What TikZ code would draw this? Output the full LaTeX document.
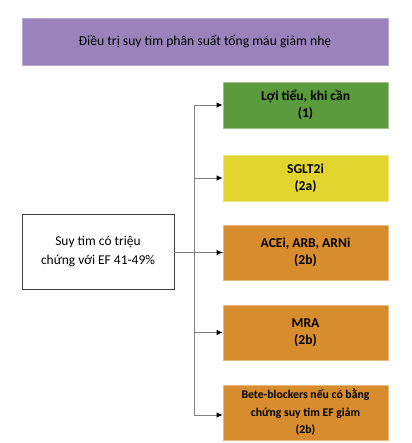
\documentclass[tikz,border=0pt]{standalone}
\usepackage{fontspec}
\setmainfont{Carlito}
\usetikzlibrary{arrows.meta,positioning}

\definecolor{titlepurple}{HTML}{9A83BA}
\definecolor{drugGreen}{HTML}{5B9A3D}
\definecolor{drugYellow}{HTML}{E2D52F}
\definecolor{drugOrange}{HTML}{D78D2D}
\definecolor{linkGray}{HTML}{808080}

\begin{document}
\begin{tikzpicture}[x=1bp, y=-1bp,
    drug/.style={minimum width=165bp, minimum height=55bp, inner sep=1pt, align=center,
      font=\fontsize{13.6}{17}\selectfont\bfseries, line width=0.8pt},
    link/.style={draw=linkGray, line width=0.9pt},
    arr/.style={link, -{Latex[length=6pt,width=5.5pt,black]}}]
        \useasboundingbox (0,0) rectangle (411,443);
        \node[fill=titlepurple, draw=titlepurple!70!white, line width=0.8pt,
              minimum width=366bp, minimum height=47bp,
              font=\fontsize{13.7}{16}\selectfont] (title) at (205,41.5)
              {Điều trị suy tim phân suất tống máu giảm nhẹ};
        \node[draw=black!75, line width=0.9pt, fill=white, minimum width=152bp, minimum height=75bp,
              align=center, font=\fontsize{13.5}{18.5}\selectfont] (ef) at (98,251.5)
              {Suy tim có triệu\\chứng với EF 41-49\%};

        \node[drug, fill=drugGreen, draw=drugGreen!60!white, minimum height=46bp] (diu) at (305.5,105) {Lợi tiểu, khi cần\\(1)};
        \node[drug, fill=drugYellow, draw=drugYellow!60!white, minimum height=46bp] (sglt) at (305.5,178) {SGLT2i\\(2a)};
        \node[drug, fill=drugOrange, draw=drugOrange!60!white] (acei) at (305.5,252.5) {ACEi, ARB, ARNi\\(2b)};
        \node[drug, fill=drugOrange, draw=drugOrange!60!white] (mra) at (305.5,332.5) {MRA\\(2b)};
        \node[drug, fill=drugOrange, draw=drugOrange!60!white,
              font=\fontsize{11.8}{17.5}\selectfont\bfseries] (beta) at (305.5,412.5)
              {Bete-blockers nếu có bằng\\chứng suy tim EF giảm\\(2b)};

        % trunk
        \coordinate (top) at (194,105);
        \coordinate (bot) at (194,415);
        \draw[link] (top) -- (bot);
        \draw[link] (ef.east |- acei.west) -- (acei.west);
        \draw[arr] (top) -- (diu.west);
        \draw[arr] (top |- sglt.west) -- (sglt.west);
        \draw[arr] (top |- acei.west) -- (acei.west);
        \draw[arr] (top |- mra.west) -- (mra.west);
        \draw[arr] (bot) -- (bot -| beta.west);
\end{tikzpicture}
\end{document}
